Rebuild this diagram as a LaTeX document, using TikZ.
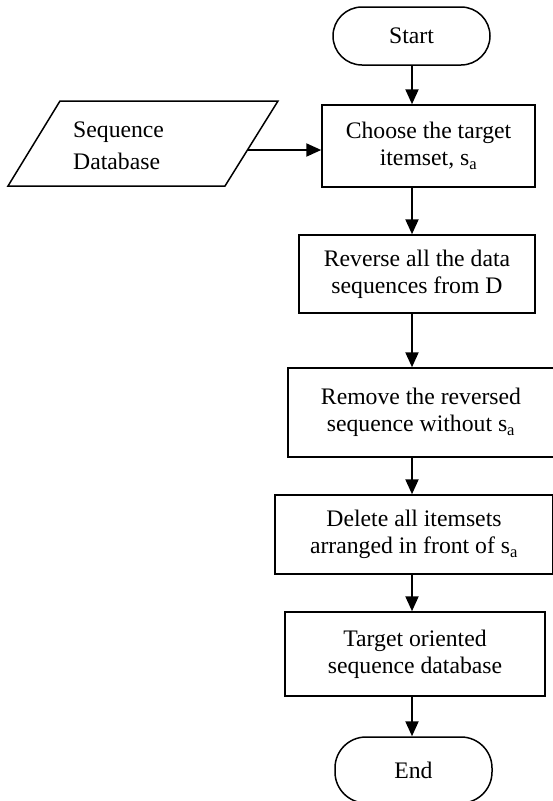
\documentclass[tikz,border=0pt]{standalone}
\usepackage{fontspec}
\setmainfont{Liberation Serif}
\usetikzlibrary{arrows.meta, calc}

\begin{document}
\begin{tikzpicture}[x=1pt, y=-1pt, font=\fontsize{23.7}{27}\selectfont,
    proc/.style={draw, line width=1.5pt, align=center, inner sep=0pt},
    term/.style={draw, line width=1.5pt, rounded corners=29pt, minimum width=157pt,
                 minimum height=58pt, inner sep=0pt},
    flow/.style={line width=2.2pt, -{Triangle[width=13pt, length=15pt]}}]
  \useasboundingbox (0,0) rectangle (552,801);
  \coordinate (col) at (412,0);

  % Terminals
  \node[term] (start) at (411.5,36) {Start};
  \node[term, minimum height=66pt, rounded corners=31pt] (end) at (413.5,770) {End};

  % Process steps
  \node[proc, minimum width=213pt, minimum height=82pt] (choose) at (428.5,146)
       {Choose the target\\itemset, s\textsubscript{a}};
  \node[proc, minimum width=236pt, minimum height=78pt] (rev) at (417,274)
       {Reverse all the data\\sequences from D};
  \node[proc, minimum width=266pt, minimum height=89pt] (remove) at (421,412.5)
       {Remove the reversed\\sequence without s\textsubscript{a}};
  \node[proc, minimum width=278pt, minimum height=79pt] (del) at (414,534.5)
       {Delete all itemsets\\arranged in front of s\textsubscript{a}};
  \node[proc, minimum width=260pt, minimum height=84pt] (target) at (415,654)
       {Target oriented\\sequence database};

  % Input data
  \draw[line width=1.5pt] (8,186) -- (60,101) -- (278,101) -- (225,186) -- cycle;
  \node[anchor=west, align=left, inner sep=0pt, font=\fontsize{23.7}{32}\selectfont]
       (seqdb) at (73,146) {Sequence\\Database};
  \coordinate (dbout) at (247,150);

  % Arrows
  \draw[flow] (dbout) -- (dbout -| choose.west);
  \draw[flow] (start.south -| col) -- (choose.north -| col);
  \draw[flow] (choose.south -| col) -- (rev.north -| col);
  \draw[flow] (rev.south -| col) -- (remove.north -| col);
  \draw[flow] (remove.south -| col) -- (del.north -| col);
  \draw[flow] (del.south -| col) -- (target.north -| col);
  \draw[flow] (target.south -| col) -- (end.north -| col);
\end{tikzpicture}
\end{document}
